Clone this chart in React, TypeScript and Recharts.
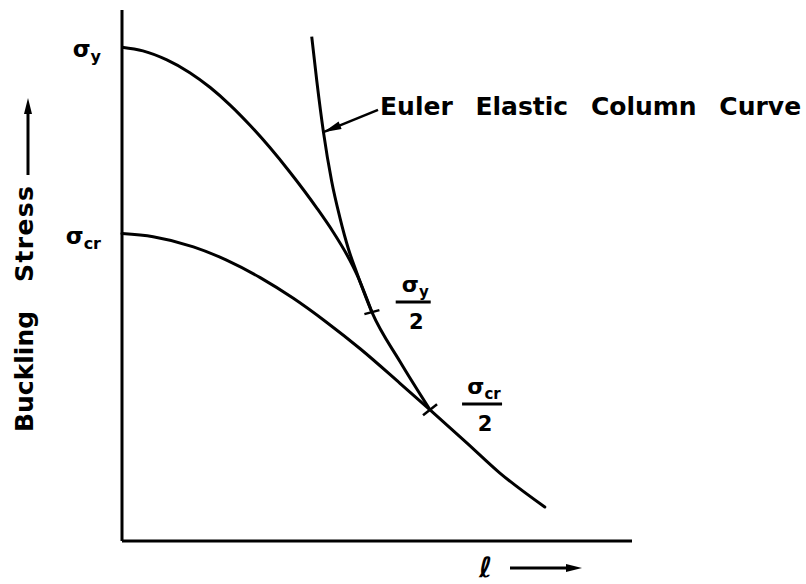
import React from "react";
import {
  LineChart,
  Line,
  XAxis,
  YAxis,
  ReferenceLine,
  ReferenceDot,
  Label,
} from "recharts";

// Stress levels marked on the vertical axis
const SIGMA_Y = 93.0;
const SIGMA_CR = 57.9;

// Inelastic column curve starting at the yield stress
const yieldCurveX = [0, 4.1, 8.8, 13.3, 17.3, 21.2, 25.1, 29.0, 32.9, 38.2, 41.4, 44.1, 46.0, 49.0];
const yieldCurveY = [SIGMA_Y, 92.3, 90.6, 88.2, 85.4, 82.1, 78.3, 74.1, 69.5, 62.7, 58.2, 53.9, 50.3, 43.1];

// Column curve starting at the critical stress
const critCurveX = [0, 6.1, 14.0, 20.5, 27.1, 33.6, 40.1, 46.7, 54.5, 60.4, 67.6, 74.1, 82.9];
const critCurveY = [SIGMA_CR, 57.3, 55.4, 52.9, 49.6, 45.7, 41.2, 36.2, 29.7, 24.7, 18.5, 12.8, 6.4];

// Euler elastic buckling hyperbola
const eulerX = [37.2, 38.2, 39.5, 41.1, 42.7, 44.4, 46.0, 49.0, 54.5, 60.4];
const eulerY = [95.0, 86.6, 77.0, 67.8, 61.0, 55.0, 50.6, 43.1, 33.8, 24.7];

// Tangent points where each curve meets the Euler curve
const yieldTangent = { x: 49.0, y: 43.1 };
const critTangent = { x: 60.4, y: 24.7 };

// Fraction labels beside the tangent points
const yieldHalfLabel = { x: 57.1, y: 45.0, sub: "y" };
const critHalfLabel = { x: 70.6, y: 25.8, sub: "cr" };

// Leader for the Euler curve caption
const eulerLeader = [
  { x: 50.2, y: 81.2 },
  { x: 39.5, y: 77.0 },
];
const eulerCaption = ["Euler", "Elastic", "Column", "Curve"];

const yTicks = [SIGMA_CR, SIGMA_Y];
const yTickSubs = ["cr", "y"];

const toPoints = (xs: number[], ys: number[]) => xs.map((x, i) => ({ x, y: ys[i] }));
const yieldData = toPoints(yieldCurveX, yieldCurveY);
const critData = toPoints(critCurveX, critCurveY);
const eulerData = toPoints(eulerX, eulerY);

const FONT = "'DejaVu Sans', sans-serif";
const INK = "#000";

function headPoints(x1: number, y1: number, x2: number, y2: number, len: number, hw: number) {
  const dx = x2 - x1;
  const dy = y2 - y1;
  const d = Math.hypot(dx, dy) || 1;
  const ux = dx / d;
  const uy = dy / d;
  const bx = x2 - ux * len;
  const by = y2 - uy * len;
  return `${x2},${y2} ${bx - uy * hw},${by + ux * hw} ${bx + uy * hw},${by - ux * hw}`;
}

const YTick = (props: any) => {
  const { x, y, payload } = props;
  const i = yTicks.indexOf(payload.value);
  return (
    <text x={x} y={y + 10} textAnchor="end" fontFamily={FONT} fontWeight="bold" fontSize={23} fill={INK}>
      σ
      <tspan dy={5} fontSize={16}>
        {yTickSubs[i]}
      </tspan>
    </text>
  );
};

const YAxisTitle = (props: any) => {
  const vb = props.viewBox;
  const bx = vb.x + 33;
  const y1 = vb.y + 422;
  const y2 = vb.y + 272;
  const ax = vb.x + 28;
  return (
    <g>
      <text
        x={bx}
        y={y1}
        transform={`rotate(-90 ${bx} ${y1})`}
        fontFamily={FONT}
        fontWeight="bold"
        fontSize={25}
        fill={INK}
      >
        Buckling
      </text>
      <text
        x={bx}
        y={y2}
        transform={`rotate(-90 ${bx} ${y2})`}
        fontFamily={FONT}
        fontWeight="bold"
        fontSize={25}
        letterSpacing={1.4}
        fill={INK}
      >
        Stress
      </text>
      <line x1={ax} y1={vb.y + 165} x2={ax} y2={vb.y + 100} stroke={INK} strokeWidth={3} />
      <polygon points={headPoints(ax, vb.y + 165, ax, vb.y + 88, 16, 4)} fill={INK} />
    </g>
  );
};

const XAxisTitle = (props: any) => {
  const vb = props.viewBox;
  const ay = vb.y + 27;
  const ax1 = vb.x + 388;
  const ax2 = vb.x + 460;
  return (
    <g>
      <text x={vb.x + 357} y={vb.y + 36} fontFamily={FONT} fontWeight="bold" fontSize={28} fill={INK}>
        ℓ
      </text>
      <line x1={ax1} y1={ay} x2={ax2 - 8} y2={ay} stroke={INK} strokeWidth={3} />
      <polygon points={headPoints(ax1, ay, ax2, ay, 16, 4)} fill={INK} />
    </g>
  );
};

const EulerLeader = (props: any) => {
  const { x1, y1, x2, y2 } = props;
  return (
    <g>
      <line x1={x1} y1={y1} x2={x2} y2={y2} stroke={INK} strokeWidth={2.5} />
      <polygon points={headPoints(x1, y1, x2, y2, 18, 4)} fill={INK} />
      <text x={x1 + 2} y={y1 + 5} fontFamily={FONT} fontWeight="bold" fontSize={25} fill={INK}>
        {eulerCaption.map((w, i) => (
          <tspan key={w} dx={i === 0 ? 0 : 14}>
            {i === 0 ? w : " " + w}
          </tspan>
        ))}
      </text>
    </g>
  );
};

const tickShape = (dx: number, dy: number) => (props: any) => {
  const { cx, cy } = props;
  return <line x1={cx - dx} y1={cy + dy} x2={cx + dx} y2={cy - dy} stroke={INK} strokeWidth={2.5} />;
};

const fractionShape = (sub: string, half: number) => (props: any) => {
  const { cx, cy } = props;
  return (
    <g>
      <text x={cx + 2} y={cy - 10} textAnchor="middle" fontFamily={FONT} fontWeight="bold" fontSize={22} fill={INK}>
        σ
        <tspan dy={5} fontSize={15}>
          {sub}
        </tspan>
      </text>
      <line x1={cx - half} y1={cy} x2={cx + half} y2={cy} stroke={INK} strokeWidth={3} />
      <text x={cx + 3} y={cy + 27} textAnchor="middle" fontFamily={FONT} fontWeight="bold" fontSize={21} fill={INK}>
        2
      </text>
    </g>
  );
};

export default function App() {
  return (
    <div style={{ position: "absolute", left: 0, top: 0, background: "#fff" }}>
      <LineChart width={806} height={584} margin={{ top: 10, right: 174, left: 0, bottom: 0 }}>
        <XAxis
          type="number"
          dataKey="x"
          domain={[0, 100]}
          tick={false}
          tickLine={false}
          height={43}
          axisLine={{ stroke: INK, strokeWidth: 3 }}
        >
          <Label content={<XAxisTitle />} />
        </XAxis>
        <YAxis
          type="number"
          dataKey="y"
          domain={[0, 100]}
          ticks={yTicks}
          tick={<YTick />}
          tickLine={false}
          tickSize={0}
          tickMargin={21}
          width={122}
          axisLine={{ stroke: INK, strokeWidth: 3 }}
        >
          <Label content={<YAxisTitle />} />
        </YAxis>
        <Line
          data={yieldData}
          dataKey="y"
          type="monotone"
          stroke={INK}
          strokeWidth={3}
          dot={false}
          activeDot={false}
          isAnimationActive={false}
        />
        <Line
          data={critData}
          dataKey="y"
          type="monotone"
          stroke={INK}
          strokeWidth={3}
          strokeLinecap="round"
          dot={false}
          activeDot={false}
          isAnimationActive={false}
        />
        <Line
          data={eulerData}
          dataKey="y"
          type="monotone"
          stroke={INK}
          strokeWidth={3}
          dot={false}
          activeDot={false}
          isAnimationActive={false}
        />
        <ReferenceLine segment={eulerLeader} shape={EulerLeader} />
        <ReferenceDot x={yieldTangent.x} y={yieldTangent.y} r={0} shape={tickShape(7.5, 2)} />
        <ReferenceDot x={critTangent.x} y={critTangent.y} r={0} shape={tickShape(7, 5.5)} />
        <ReferenceDot
          x={yieldHalfLabel.x}
          y={yieldHalfLabel.y}
          r={0}
          shape={fractionShape(yieldHalfLabel.sub, 17.5)}
        />
        <ReferenceDot
          x={critHalfLabel.x}
          y={critHalfLabel.y}
          r={0}
          shape={fractionShape(critHalfLabel.sub, 20)}
        />
      </LineChart>
    </div>
  );
}
